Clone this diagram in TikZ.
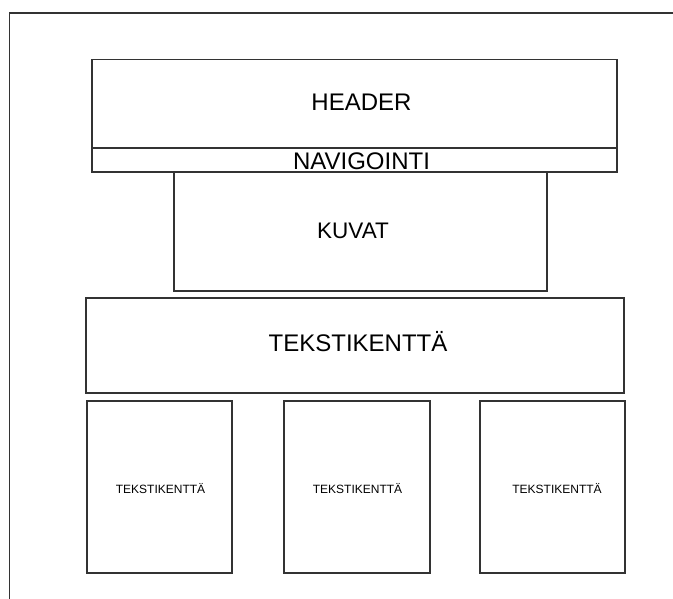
\documentclass[tikz,border=0pt]{standalone}
\usepackage{fontspec}
\setmainfont{Liberation Sans}
\begin{document}
\begin{tikzpicture}[x=1pt,y=1pt,
  box/.style={draw=black!80, line width=1.8pt, rectangle, inner sep=0pt, outer sep=0pt},
  bigtxt/.style={anchor=base, inner sep=0pt, font=\fontsize{24}{28}\selectfont},
  smalltxt/.style={anchor=base, inner sep=0pt, font=\fontsize{12}{14}\selectfont}]
\useasboundingbox (0,0) rectangle (673,-599);
% outer frame
\coordinate (fbl) at (9.5,-599);
\coordinate (ftl) at (9.5,-13);
\coordinate (ftr) at (673,-13);
\draw[black!80, line width=1.8pt] (fbl) -- (ftl) -- (ftr);
% boxes
\node[box, minimum width=525pt, minimum height=88.5pt] (header) at (354.5,-103.75) {};
\node[box, minimum width=525pt, minimum height=24.5pt] (nav) at (354.5,-159.75) {};
\node[box, minimum width=373pt, minimum height=118.5pt] (kuvat) at (360.5,-231.75) {};
\node[box, minimum width=538pt, minimum height=95pt] (teksti) at (355,-345.5) {};
\node[box, minimum width=145pt, minimum height=172.3pt] (t1) at (159.5,-486.85) {};
\node[box, minimum width=146pt, minimum height=172.3pt] (t2) at (357,-486.85) {};
\node[box, minimum width=145pt, minimum height=172.3pt] (t3) at (552.5,-486.85) {};
% labels
\node[bigtxt] (lheader) at (361.5,-111) {HEADER};
\node[bigtxt] (lnav) at (361.5,-170) {NAVIGOINTI};
\node[bigtxt, font=\fontsize{22.5}{26}\selectfont] (lkuvat) at (353,-239) {KUVAT};
\node[bigtxt] (lteksti) at (358,-352) {TEKSTIKENTTÄ};
\node[smalltxt] (lt1) at (160.5,-493) {TEKSTIKENTTÄ};
\node[smalltxt] (lt2) at (357.5,-493) {TEKSTIKENTTÄ};
\node[smalltxt] (lt3) at (557,-493) {TEKSTIKENTTÄ};
\end{tikzpicture}
\end{document}
